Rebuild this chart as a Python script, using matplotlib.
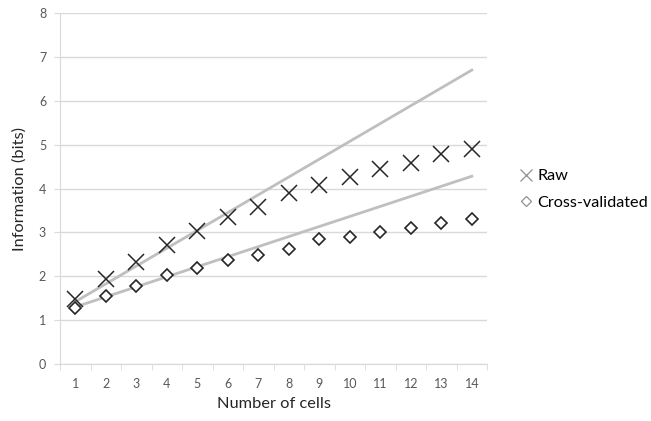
import matplotlib.pyplot as plt

cells = list(range(1, 15))
raw = [1.48, 1.94, 2.33, 2.71, 3.04, 3.34, 3.59, 3.89, 4.08, 4.27, 4.44, 4.59, 4.78, 4.89]
cross_val = [1.28, 1.55, 1.78, 2.04, 2.18, 2.36, 2.49, 2.62, 2.85, 2.90, 3.00, 3.11, 3.21, 3.31]

# gray trend lines (ends)
trend_x = [1, 14]
trend_raw = [1.42, 6.70]
trend_cv = [1.30, 4.28]

plt.rcParams["font.family"] = ["Lato", "DejaVu Sans"]

fig = plt.figure(figsize=(6.51, 4.21), dpi=100)
ax = fig.add_axes([0.0922, 0.1354, 0.656, 0.8336])

grid = "#d9d9d9"
ax.plot(trend_x, trend_raw, color="#bfbfbf", linewidth=2, zorder=2)
ax.plot(trend_x, trend_cv, color="#bfbfbf", linewidth=2, zorder=2)
ax.plot(cells, raw, linestyle="none", marker="x", markersize=11, markeredgewidth=1.1,
        color="#262626", zorder=3)
ax.plot(cells, cross_val, linestyle="none", marker="D", markersize=6.5, markeredgewidth=1.2,
        markerfacecolor="white", markeredgecolor="#262626", zorder=3)

ax.set_xlim(0.5, 14.5)
ax.set_ylim(0, 8)
ax.set_yticks(range(0, 9))
ax.set_xticks(cells)
ax.set_xticks([c + 0.5 for c in range(0, 15)], minor=True)
ax.tick_params(axis="x", which="major", length=0, pad=10, labelsize=9, labelcolor="#595959")
ax.tick_params(axis="x", which="minor", length=4, color=grid, direction="out")
ax.tick_params(axis="y", length=4, color=grid, labelsize=9, labelcolor="#595959", pad=6)

ax.grid(axis="y", color=grid, linewidth=1)
ax.set_axisbelow(True)
for side in ["top", "right"]:
    ax.spines[side].set_visible(False)
ax.spines["left"].set_color(grid)
ax.spines["bottom"].set_color(grid)

ax.set_xlabel("Number of cells", fontsize=11.8, color="#262626", labelpad=5)
ax.set_ylabel("Information (bits)", fontsize=11.8, color="#262626", labelpad=9)

h1, = ax.plot([], [], linestyle="none", marker="x", markersize=8, markeredgewidth=0.9, color="#909090")
h2, = ax.plot([], [], linestyle="none", marker="D", markersize=5, markeredgewidth=0.9,
              markerfacecolor="white", markeredgecolor="#909090")
ax.legend([h1, h2], ["Raw", "Cross-validated"], loc="center left", bbox_to_anchor=(1.06, 0.497),
          frameon=False, fontsize=11.7, handlelength=0.8, handletextpad=0.3, labelspacing=0.75,
          borderaxespad=0)

fig.savefig("out.png", dpi=100)
